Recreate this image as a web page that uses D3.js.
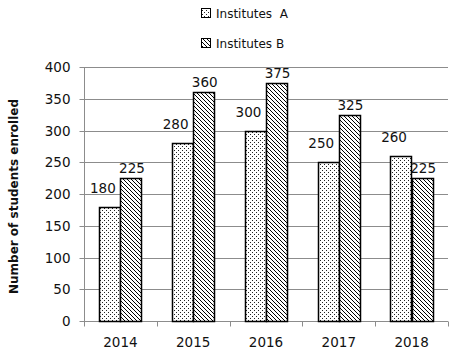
<!DOCTYPE html>
<html>
<head>
<meta charset="utf-8">
<script src="https://cdn.jsdelivr.net/npm/d3@7"></script>
<style>
  html, body { margin: 0; padding: 0; background: #fff; }
  svg { display: block; }
  text { font-family: "DejaVu Sans", Verdana, sans-serif; fill: #111; }
</style>
</head>
<body>
<svg id="chart" width="453" height="352"></svg>
<script>
const years = ["2014", "2015", "2016", "2017", "2018"];
const seriesNames = ["Institutes  A", "Institutes B"];
const institutesA = [180, 280, 300, 250, 260];
const institutesB = [225, 360, 375, 325, 225];
const yTicks = [0, 50, 100, 150, 200, 250, 300, 350, 400];
const yTitle = "Number of students enrolled";

const svg = d3.select("#chart");
const margin = { left: 84, right: 5, top: 67, bottom: 31 };
const W = 453, H = 352;

// Patterns
const defs = svg.append("defs");
const pA = defs.append("pattern").attr("id", "patA").attr("patternUnits", "userSpaceOnUse")
  .attr("width", 4).attr("height", 4);
pA.append("rect").attr("width", 4).attr("height", 4).attr("fill", "#fff");
pA.append("rect").attr("x", 0).attr("y", 0).attr("width", 1).attr("height", 1).attr("fill", "#222");
pA.append("rect").attr("x", 2).attr("y", 2).attr("width", 1).attr("height", 1).attr("fill", "#222");

const pB = defs.append("pattern").attr("id", "patB").attr("patternUnits", "userSpaceOnUse")
  .attr("width", 4).attr("height", 4);
pB.append("rect").attr("width", 4).attr("height", 4).attr("fill", "#fff");
pB.append("path").attr("d", "M-1,-1 L5,5 M-1,3 L1,5 M3,-1 L5,1")
  .attr("stroke", "#000").attr("stroke-width", 1);

const x = d3.scaleBand().domain(years).range([margin.left, W - margin.right])
  .paddingInner(0.42).paddingOuter(0.21);
const xs = d3.scaleBand().domain([0, 1]).range([0, x.bandwidth()]);
const y = d3.scaleLinear().domain([0, 400]).range([H - margin.bottom, margin.top]);

// gridlines
svg.append("g").selectAll("line").data(yTicks.filter(d => d > 0)).join("line")
  .attr("x1", margin.left).attr("x2", W - margin.right)
  .attr("y1", d => Math.round(y(d)) + 0.5).attr("y2", d => Math.round(y(d)) + 0.5)
  .attr("stroke", "#8c8c8c").attr("stroke-width", 1);

// y axis
const yAxis = svg.append("g").attr("transform", `translate(${margin.left + 0.5},0.5)`)
  .call(d3.axisLeft(y).tickValues(yTicks).tickSize(5).tickPadding(9));
yAxis.select(".domain").attr("stroke", "#8c8c8c").attr("d", `M0,${y(400)}V${y(0)+5}`);
yAxis.selectAll(".tick line").attr("stroke", "#8c8c8c");
yAxis.selectAll(".tick text").style("font-size", "13.5px").attr("fill", "#111")
  .style("font-family", "'DejaVu Sans', Verdana, sans-serif");
yAxis.selectAll(".tick").attr("transform", d => `translate(0,${Math.round(y(d))})`);

// x axis
const xAxisG = svg.append("g").attr("transform", `translate(0,${Math.round(y(0)) + 0.5})`);
xAxisG.append("line").attr("x1", margin.left).attr("x2", W - margin.right)
  .attr("stroke", "#8c8c8c");
const bounds = years.map(d => x(d) - x.step() * x.paddingInner() / 2);
bounds.push(W - margin.right);
xAxisG.selectAll("line.tk").data(bounds.slice(1)).join("line").attr("class", "tk")
  .attr("x1", d => Math.round(d) + 0.5).attr("x2", d => Math.round(d) + 0.5)
  .attr("y1", 0).attr("y2", 5).attr("stroke", "#8c8c8c");
xAxisG.selectAll("text").data(years).join("text")
  .attr("x", d => x(d) + x.bandwidth() / 2).attr("y", 25)
  .attr("text-anchor", "middle").style("font-size", "13.5px").text(d => d);

// bars
const series = [institutesA, institutesB];
const pats = ["url(#patA)", "url(#patB)"];
series.forEach((vals, si) => {
  svg.append("g").selectAll("rect").data(vals).join("rect")
    .attr("x", (d, i) => Math.round(x(years[i]) + xs(si)) + 0.5)
    .attr("y", d => Math.round(y(d)) + 0.5)
    .attr("width", Math.round(xs.bandwidth()))
    .attr("height", d => Math.round(y(0)) - Math.round(y(d)))
    .attr("fill", pats[si]).attr("stroke", "#000").attr("stroke-width", 1.5);
});

// labels
svg.append("g").selectAll("text").data(institutesA).join("text")
  .attr("x", (d, i) => x(years[i]) + xs(0) + xs.bandwidth() / 2 - 7)
  .attr("y", d => y(d) - 14)
  .attr("text-anchor", "middle").style("font-size", "13.5px").text(d => d);
svg.append("g").selectAll("text").data(institutesB).join("text")
  .attr("x", (d, i) => x(years[i]) + xs(1) + xs.bandwidth() / 2 + 1)
  .attr("y", d => y(d) - 5)
  .attr("text-anchor", "middle").style("font-size", "13.5px").text(d => d);

// y title
svg.append("text").attr("transform", `translate(18,196.5) rotate(-90)`)
  .attr("text-anchor", "middle").style("font-size", "12px").style("font-weight", "bold")
  .text(yTitle);

// legend
const leg = svg.append("g");
seriesNames.forEach((name, i) => {
  const ly = 8 + i * 30;
  leg.append("rect").attr("x", 201.5).attr("y", ly + 0.5).attr("width", 9).attr("height", 9)
    .attr("fill", pats[i]).attr("stroke", "#000").attr("stroke-width", 1);
  leg.append("text").attr("x", 216).attr("y", ly + 10).style("font-size", "12px")
    .style("white-space", "pre").attr("xml:space", "preserve").text(name);
});
</script>
</body>
</html>
